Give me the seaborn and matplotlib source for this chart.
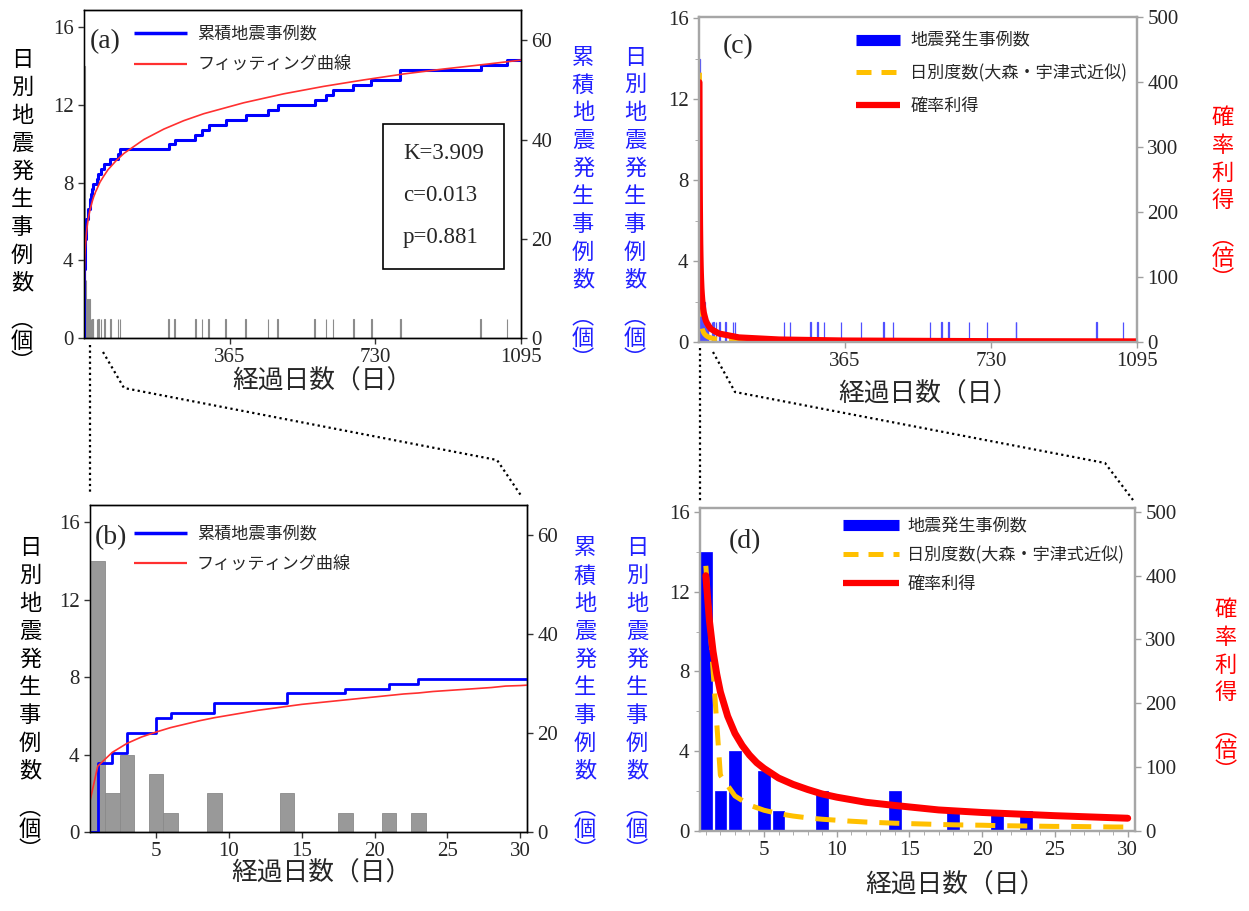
import numpy as np
import matplotlib
matplotlib.use("Agg")
import matplotlib.pyplot as plt
from matplotlib.lines import Line2D
from matplotlib.patches import Rectangle
import seaborn as sns

# ---------------- data ----------------
event_days = [1, 2, 3, 5, 6, 9, 14, 18, 21, 23,
              32, 36, 43, 51, 66, 85, 90,
              212, 227, 279, 296, 312, 355, 405, 461, 485, 578, 606, 624, 675, 720,
              792, 793, 994, 1060]
event_counts = [14, 2, 4, 3, 1, 2, 2, 1, 1, 1,
                1, 1, 1, 1, 1, 1, 1,
                1, 1, 1, 1, 1, 1, 1, 1, 1, 1, 1, 1, 1, 1,
                1, 1, 1, 1]

fit_days = list(range(0, 31)) + [40, 50, 60, 80, 100, 150, 200, 250, 300, 400,
                                 500, 600, 700, 800, 900, 1000, 1095]
fit_cum = [0, 13.3, 16.1, 17.9, 19.2, 20.2, 21.1, 21.8, 22.5, 23.1, 23.6,
           24.1, 24.6, 25.0, 25.4, 25.8, 26.1, 26.4, 26.7, 27.0, 27.3,
           27.6, 27.9, 28.1, 28.4, 28.6, 28.8, 29.0, 29.2, 29.5, 29.6,
           31.4, 32.7, 33.9, 35.7, 37.2, 40.0, 42.1, 43.8, 45.2, 47.4,
           49.2, 50.7, 52.0, 53.2, 54.2, 55.1, 56.0]

freq_days = list(range(1, 31)) + [40, 60, 100, 200, 365, 500, 730, 1095]
freq_vals = [13.3, 2.8, 1.76, 1.30, 1.04, 0.87, 0.75, 0.66, 0.59, 0.54,
             0.49, 0.45, 0.42, 0.39, 0.37, 0.35, 0.33, 0.31, 0.30, 0.29,
             0.27, 0.26, 0.25, 0.24, 0.23, 0.23, 0.22, 0.21, 0.20, 0.20,
             0.15, 0.11, 0.07, 0.04, 0.02, 0.016, 0.012, 0.008]

gain_days = [1, 1.25, 1.5, 1.75, 2, 2.5, 3, 3.5, 4, 4.5, 5, 6, 7, 8, 9, 10, 12, 14,
             17, 20, 25, 30, 50, 100, 200, 365, 730, 1095]
gain_vals = [400, 329, 281, 246, 218, 180, 153, 134, 119, 107, 98, 83, 73, 65, 58, 53,
             45, 40, 33, 29, 24, 20, 13, 7.0, 3.8, 2.2, 1.2, 0.85]

params_text = ["K=3.909", "c=0.013", "p=0.881"]
lbl_cum = "累積地震事例数"
lbl_fit = "フィッティング曲線"
lbl_bar = "地震発生事例数"
lbl_freq = "日別度数(大森・宇津式近似)"
lbl_gain = "確率利得"
xlab = "経過日数（日）"

cum_x = [0] + event_days + [1095]
cum_y = [0] + list(np.cumsum(event_counts)) + [int(np.sum(event_counts))]

# first-30-day subsets for panel (d)
freq_d = [(d, v) for d, v in zip(freq_days, freq_vals) if d <= 30]
gain_d = [(d, v) for d, v in zip(gain_days, gain_vals) if d <= 30]

# ---------------- style ----------------
sns.set_style("ticks")
JP = "Noto Sans CJK JP"
plt.rcParams["font.family"] = ["Liberation Serif", JP]

W, H = 1249, 911
fig = plt.figure(figsize=(W / 100, H / 100), dpi=100)


def add_ax(l, t, r, b):
    return fig.add_axes([l / W, 1 - b / H, (r - l) / W, (b - t) / H])


def ftext(x, y, s, **kw):
    fig.text(x / W, 1 - y / H, s, **kw)


def vlabel(x, y0, chars, unit, color, pitch=27.9, size=16):
    for i, ch in enumerate(chars):
        ftext(x, y0 + i * pitch, ch, color=color, fontsize=size, family=JP,
              ha="center", va="center")
    last = y0 + (len(chars) - 1) * pitch
    ftext(x, last + 58, "︵\n" + unit + "\n︶", color=color, fontsize=size, family=JP,
          ha="center", va="center", ma="center", linespacing=0.9)


def style_ticks(ax, tick_color):
    ax.tick_params(labelsize=15, length=4, width=1, color=tick_color)
    ax.set_xlabel("")
    ax.set_ylabel("")


axA = add_ax(84, 10, 521, 338)
axB = add_ax(90, 505, 527, 832)
axC = add_ax(699, 17, 1137, 342)
axD = add_ax(700, 508, 1135, 831)

# ---------------- panel (a) ----------------
sns.histplot(x=event_days, weights=event_counts, discrete=True, color="#8c8c8c",
             edgecolor="#8c8c8c", linewidth=0.8, alpha=1, ax=axA)
axA2 = axA.twinx()
sns.lineplot(x=cum_x, y=cum_y, drawstyle="steps-post", color="#0000ff", lw=2.2, ax=axA2)
sns.lineplot(x=fit_days, y=fit_cum, color="#ff3030", lw=1.2, ax=axA2)
axA.set_xlim(0, 1095)
axA.set_ylim(0, 16.9)
axA2.set_ylim(0, 66.1)
axA.set_xticks([365, 730, 1095])
axA.set_yticks([0, 4, 8, 12, 16])
axA2.set_yticks([0, 20, 40, 60])

# ---------------- panel (b) ----------------
sns.histplot(x=event_days, weights=event_counts, discrete=True, color="#999999",
             edgecolor="#8a8a8a", linewidth=0.6, alpha=1, ax=axB)
axB2 = axB.twinx()
sns.lineplot(x=cum_x, y=cum_y, drawstyle="steps-post", color="#0000ff", lw=2, ax=axB2)
sns.lineplot(x=fit_days, y=fit_cum, color="#ff3030", lw=1.2, ax=axB2)
axB.set_xlim(0.47, 30.46)
axB.set_ylim(0, 16.9)
axB2.set_ylim(0, 66.1)
axB.set_xticks([5, 10, 15, 20, 25, 30])
axB.set_yticks([0, 4, 8, 12, 16])
axB2.set_yticks([0, 20, 40, 60])

for ax in (axA, axA2, axB, axB2):
    style_ticks(ax, "#333333")
    for s in ax.spines.values():
        s.set_color("black")
        s.set_linewidth(1.0)
for ax in (axA, axB):
    ax.spines["left"].set_color("#808080")

# ---------------- panel (c) ----------------
sns.histplot(x=event_days, weights=event_counts, discrete=True, color="#5050ff",
             edgecolor="#5050ff", linewidth=0.9, alpha=0.85, ax=axC)
sns.lineplot(x=freq_days, y=freq_vals, color="#ffc000", lw=3.6,
             linestyle=(0, (4, 2.4)), ax=axC)
axC2 = axC.twinx()
sns.lineplot(x=gain_days, y=gain_vals, color="#ff0000", lw=4.5, ax=axC2)
axC.set_xlim(0, 1095)
axC.set_ylim(0, 16.05)
axC2.set_ylim(0, 500.5)
axC.set_xticks([365, 730, 1095])
axC.set_yticks([0, 4, 8, 12, 16])
axC.set_yticks([2, 6, 10, 14], minor=True)
axC2.set_yticks([0, 100, 200, 300, 400, 500])

# ---------------- panel (d) ----------------
sns.histplot(x=event_days, weights=event_counts, discrete=True, shrink=0.8,
             color="#0000ff", edgecolor="#0000ff", linewidth=0.5, alpha=1, ax=axD)
sns.lineplot(x=[d for d, _ in freq_d], y=[v for _, v in freq_d], color="#ffc000", lw=3.6,
             linestyle=(0, (4, 2.4)), ax=axD)
axD2 = axD.twinx()
sns.lineplot(x=[d for d, _ in gain_d], y=[v for _, v in gain_d], color="#ff0000", lw=5,
             ax=axD2)
axD.set_xlim(0.6, 30.5)
axD.set_ylim(0, 16.2)
axD2.set_ylim(0, 506)
axD.set_xticks([5, 10, 15, 20, 25, 30])
axD.set_xticks(list(range(1, 31)), minor=True)
axD.set_yticks([0, 4, 8, 12, 16])
axD.set_yticks([2, 6, 10, 14], minor=True)
axD2.set_yticks([0, 100, 200, 300, 400, 500])

for ax in (axC, axC2, axD, axD2):
    style_ticks(ax, "#a0a0a0")
    ax.tick_params(which="minor", length=3, color="#a0a0a0")
    for s in ax.spines.values():
        s.set_color("#a6a6a6")
        s.set_linewidth(1.6)

# ---------------- legends ----------------
leg_prop = {"family": JP, "size": 12.3}
hA = [Line2D([], [], color="#0000ff", lw=2.5, solid_capstyle="butt"),
      Line2D([], [], color="#ff3030", lw=1.6, solid_capstyle="butt")]
axA2.legend(hA, [lbl_cum, lbl_fit], loc="upper left", bbox_to_anchor=(0.114, 0.955),
            frameon=False, prop=leg_prop, handlelength=3.1, handletextpad=0.6,
            labelspacing=0.75, borderpad=0, borderaxespad=0)
axB2.legend(hA, [lbl_cum, lbl_fit], loc="upper left", bbox_to_anchor=(0.10, 0.94),
            frameon=False, prop=leg_prop, handlelength=3.1, handletextpad=0.6,
            labelspacing=0.75, borderpad=0, borderaxespad=0)
hC = [Line2D([], [], color="#0000ff", lw=8, solid_capstyle="butt"),
      Line2D([], [], color="#ffc000", lw=3.6, linestyle=(0, (3, 2)), dash_capstyle="butt"),
      Line2D([], [], color="#ff0000", lw=4.5, solid_capstyle="butt")]
lC = [lbl_bar, lbl_freq, lbl_gain]
leg_prop2 = {"family": JP, "size": 12.3}
axC2.legend(hC, lC, loc="upper left", bbox_to_anchor=(0.358, 0.955),
            frameon=False, prop=leg_prop2, handlelength=2.6, handletextpad=0.6,
            labelspacing=0.85, borderpad=0, borderaxespad=0)
axD2.legend(hC, lC, loc="upper left", bbox_to_anchor=(0.329, 0.972),
            frameon=False, prop=leg_prop2, handlelength=3.3, handletextpad=0.45,
            labelspacing=0.65, borderpad=0, borderaxespad=0)

# ---------------- parameter box in (a) ----------------
axA2.add_patch(Rectangle((0.684, 0.21), 0.277, 0.442, transform=axA2.transAxes,
                         fill=True, facecolor="white", edgecolor="black", lw=1.2, zorder=5))
for yy, s in zip([0.561, 0.433, 0.305], params_text):
    axA2.text(0.73, yy, s, transform=axA2.transAxes, fontsize=16.5, ha="left",
              va="center", family="Liberation Serif", zorder=6)

# ---------------- panel letters ----------------
for x, y, s in [(105, 42, "(a)"), (111, 538, "(b)"), (738, 47, "(c)"), (745, 542, "(d)")]:
    ftext(x, y, s, fontsize=20, family="Liberation Serif", ha="center", va="center")

# ---------------- axis labels ----------------
for x, y in [(322, 382), (321, 874), (928, 395), (955, 886)]:
    ftext(x, y, xlab, fontsize=18.5, family=JP, ha="center", va="center")

vlabel(22, 60, "日別地震発生事例数", "個", "black")
vlabel(583, 57, "累積地震発生事例数", "個", "#2020ff")
vlabel(635, 57, "日別地震発生事例数", "個", "#2020ff")
vlabel(1223, 118, "確率利得", "倍", "#ff0000", pitch=27.5)
vlabel(30, 548, "日別地震発生事例数", "個", "black")
vlabel(585, 548, "累積地震発生事例数", "個", "#2020ff")
vlabel(637, 548, "日別地震発生事例数", "個", "#2020ff")
vlabel(1226, 610, "確率利得", "倍", "#ff0000", pitch=27.5)

# ---------------- dotted zoom connectors ----------------
def fline(xs, ys):
    fig.add_artist(Line2D([x / W for x in xs], [1 - y / H for y in ys],
                          transform=fig.transFigure, color="black", lw=1.6,
                          linestyle=(0, (1, 1.5))))

fline([90, 90], [345, 495])
fline([103, 124, 497, 522], [352, 388, 460, 497])
fline([700, 700], [348, 502])
fline([713, 735, 1105, 1133], [352, 392, 463, 500])

fig.savefig("out.png", dpi=100)
